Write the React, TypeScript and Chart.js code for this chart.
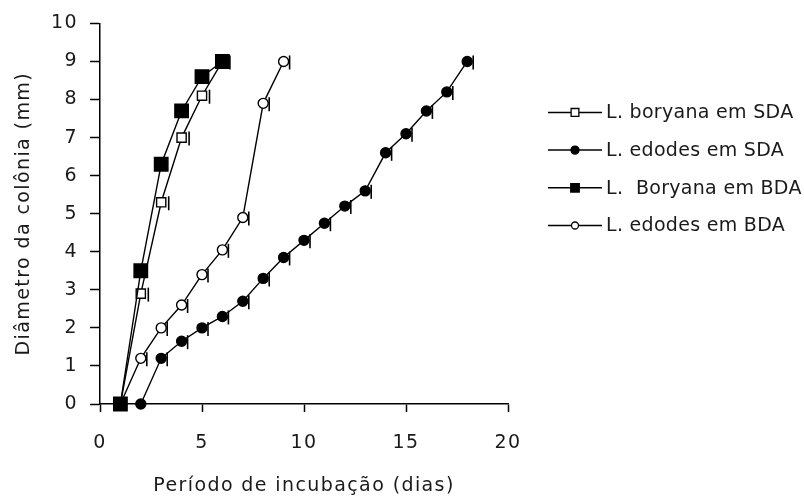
import React, { useEffect, useRef } from "react";
import { Chart, registerables } from "chart.js";
import { drawPoint } from "chart.js/helpers";

Chart.register(...registerables);

// ---- data ----
const seriesLabels = [
  "L. boryana em SDA",
  "L. edodes em SDA",
  "L.  Boryana em BDA",
  "L. edodes em BDA",
];

const boryanaSdaDays = [1, 2, 3, 4, 5, 6];
const boryanaSdaDiam = [0, 2.9, 5.3, 7.0, 8.1, 9.0];

const edodesSdaDays = [2, 3, 4, 5, 6, 7, 8, 9, 10, 11, 12, 13, 14, 15, 16, 17, 18];
const edodesSdaDiam = [0, 1.2, 1.65, 2.0, 2.3, 2.7, 3.3, 3.85, 4.3, 4.75, 5.2, 5.6, 6.6, 7.1, 7.7, 8.2, 9.0];

const boryanaBdaDays = [1, 2, 3, 4, 5, 6];
const boryanaBdaDiam = [0, 3.5, 6.3, 7.7, 8.6, 9.0];

const edodesBdaDays = [1, 2, 3, 4, 5, 6, 7, 8, 9];
const edodesBdaDiam = [0, 1.2, 2.0, 2.6, 3.4, 4.05, 4.9, 7.9, 9.0];

const xTitle = "Período de incubação (dias)";
const yTitle = "Diâmetro da colônia (mm)";

const FONT = '"DejaVu Sans", "Liberation Sans", Arial, sans-serif';
const TEXT = "#1a1a1a";

const toPoints = (xs: number[], ys: number[]) => xs.map((x, i) => ({ x, y: ys[i] }));

const spacingPlugin = {
  id: "spacing",
  beforeDraw(chart: any) {
    chart.ctx.letterSpacing = "1.4px";
  },
};

const legendPlugin = {
  id: "customLegend",
  afterDraw(chart: any) {
    const ctx = chart.ctx;
    const area = chart.chartArea;
    const x0 = area.right + 40;
    const lineLen = 54;
    const y0 = area.top + 89;
    const gap = 37.7;
    chart.data.datasets.forEach((ds: any, i: number) => {
      const y = y0 + i * gap;
      ctx.save();
      ctx.letterSpacing = "0.3px";
      ctx.strokeStyle = "#000";
      ctx.lineWidth = 1.5;
      ctx.beginPath();
      ctx.moveTo(x0, y);
      ctx.lineTo(x0 + lineLen, y);
      ctx.stroke();
      ctx.fillStyle = ds.pointBackgroundColor;
      ctx.strokeStyle = "#000";
      ctx.lineWidth = 1.3;
      drawPoint(
        ctx,
        { pointStyle: ds.pointStyle, rotation: 0, radius: ds.legendRadius, borderWidth: 1.3 },
        x0 + lineLen / 2,
        y
      );
      ctx.fillStyle = TEXT;
      ctx.font = `19px ${FONT}`;
      ctx.textBaseline = "middle";
      ctx.textAlign = "left";
      ctx.fillText(ds.label, x0 + lineLen + 4, y + 1);
      ctx.restore();
    });
  },
};

const errorMarkPlugin = {
  id: "errorMarks",
  afterDatasetsDraw(chart: any) {
    const ctx = chart.ctx;
    chart.data.datasets.forEach((ds: any, i: number) => {
      if (!ds.errorMark) return;
      const meta = chart.getDatasetMeta(i);
      ctx.save();
      ctx.strokeStyle = "#000";
      ctx.lineWidth = 1.6;
      meta.data.forEach((pt: any, j: number) => {
        if (ds.data[j].y === 0) return;
        const off = ds.pointRadius + 1;
        ctx.beginPath();
        ctx.moveTo(pt.x + off, pt.y - 6);
        ctx.lineTo(pt.x + off, pt.y + 8);
        ctx.stroke();
      });
      ctx.restore();
    });
  },
};

export default function App() {
  const ref = useRef<HTMLCanvasElement | null>(null);

  useEffect(() => {
    if (!ref.current) return;
    const common = {
      showLine: true,
      borderColor: "#000",
      borderWidth: 1.4,
      pointBorderColor: "#000",
      pointBorderWidth: 1.4,
      clip: false,
    };
    const chart = new Chart(ref.current, {
      type: "scatter",
      data: {
        datasets: [
          {
            ...common,
            label: seriesLabels[0],
            data: toPoints(boryanaSdaDays, boryanaSdaDiam),
            pointStyle: "rect",
            pointRadius: 6.5,
            pointBackgroundColor: "#fff",
            legendRadius: 5.5,
            errorMark: true,
            order: 1,
          } as any,
          {
            ...common,
            label: seriesLabels[1],
            data: toPoints(edodesSdaDays, edodesSdaDiam),
            pointStyle: "circle",
            pointRadius: 5,
            pointBackgroundColor: "#000",
            legendRadius: 4,
            errorMark: true,
            order: 1,
          } as any,
          {
            ...common,
            label: seriesLabels[2],
            data: toPoints(boryanaBdaDays, boryanaBdaDiam),
            pointStyle: "rect",
            pointRadius: 9.5,
            pointBackgroundColor: "#000",
            legendRadius: 6,
            errorMark: false,
            order: 0,
          } as any,
          {
            ...common,
            label: seriesLabels[3],
            data: toPoints(edodesBdaDays, edodesBdaDiam),
            pointStyle: "circle",
            pointRadius: 5,
            pointBackgroundColor: "#fff",
            legendRadius: 3.5,
            errorMark: true,
            order: 1,
          } as any,
        ],
      },
      options: {
        animation: false,
        responsive: false,
        devicePixelRatio: 1,
        layout: { padding: { top: 23, right: 296, bottom: 0, left: 0 } },
        plugins: {
          legend: { display: false },
          tooltip: { enabled: false },
        },
        scales: {
          x: {
            type: "linear",
            min: 0,
            max: 20,
            afterFit: (s: any) => {
              s.height = 95;
            },
            ticks: {
              stepSize: 5,
              color: TEXT,
              padding: 20,
              font: { family: FONT, size: 19 },
            },
            grid: {
              drawOnChartArea: false,
              drawTicks: true,
              tickLength: 8,
              color: "#000",
              tickWidth: 1.5,
            },
            border: { display: true, color: "#000", width: 1.5 },
            title: {
              display: true,
              text: xTitle,
              color: TEXT,
              font: { family: FONT, size: 19, lineHeight: 1.2 },
              padding: { top: 0, bottom: 2 },
            },
          },
          y: {
            type: "linear",
            min: 0,
            max: 10,
            afterFit: (s: any) => {
              s.width = 100;
            },
            ticks: {
              stepSize: 1,
              color: TEXT,
              padding: 12,
              font: { family: FONT, size: 19 },
            },
            grid: {
              drawOnChartArea: false,
              drawTicks: true,
              tickLength: 10,
              color: "#000",
              tickWidth: 1.5,
            },
            border: { display: true, color: "#000", width: 1.5 },
            title: {
              display: true,
              text: yTitle,
              color: TEXT,
              font: { family: FONT, size: 19, lineHeight: 1.2 },
              padding: { top: 13, bottom: 0 },
            },
          },
        },
      } as any,
      plugins: [spacingPlugin, legendPlugin, errorMarkPlugin],
    });
    return () => chart.destroy();
  }, []);

  return (
    <div style={{ position: "absolute", left: 0, top: 0, width: 804, height: 499, background: "#fff" }}>
      <canvas ref={ref} width={804} height={499} />
    </div>
  );
}
